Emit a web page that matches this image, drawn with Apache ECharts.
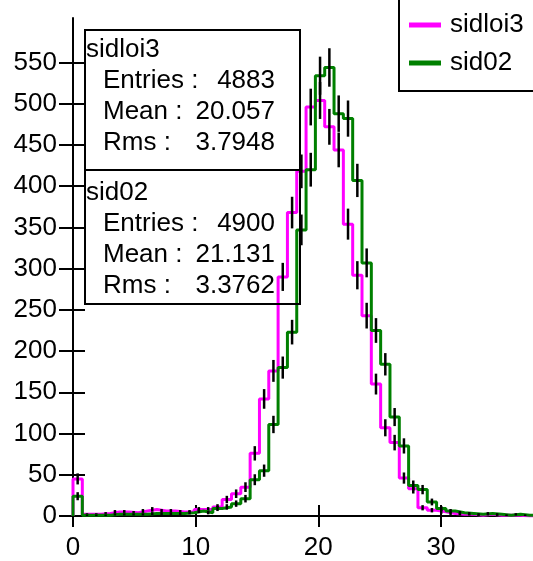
<!DOCTYPE html>
<html><head><meta charset="utf-8">
<script src="https://cdn.jsdelivr.net/npm/echarts@6/dist/echarts.min.js"></script>
<style>html,body{margin:0;padding:0;background:#fff}#c{width:533px;height:561px}</style>
</head><body><div id="c"></div>
<script>
// histogram binning
const BIN_LO = 0, BIN_HI = 38, NBINS = 50;
// bin contents
const sidloi3 = [45,2,2,3,5,5,4,6,8,6,6,5,5,8,8,11,20,27,35,76,142,176,290,368,418,496,504,472,444,354,292,243,160,107,89,46,33,10,7,5,3,2,2,1,2,1,1,1,0,0];
const sid02   = [24,1,1,1,2,2,2,2,3,3,3,3,4,6,4,9,11,15,21,44,55,111,180,223,347,420,534,544,488,482,407,307,225,184,120,85,37,32,17,9,6,4,3,2,3,2,1,2,1,1];
const xTicks = [0,10,20,30];
const yTicks = [0,50,100,150,200,250,300,350,400,450,500,550];
const X_MAX = 37.5, Y_MAX = 604;
// stats boxes
const statNames = ['sidloi3','sid02'];
const statEntries = ['4883','4900'];
const statMeans = ['20.057','21.131'];
const statRms = ['3.7948','3.3762'];

const FONT = 'Liberation Sans';
const FS = 26;
const W = (BIN_HI - BIN_LO) / NBINS;
function stepData(c){
  const d=[[BIN_LO,0]];
  c.forEach((v,i)=>d.push([BIN_LO+i*W,v]));
  d.push([BIN_LO+NBINS*W,c[c.length-1]]);
  return d;
}
function errData(c){ return c.map((v,i)=>[BIN_LO+(i+0.5)*W,v]).filter(p=>p[1]>0); }
function errSeries(c){
  return {type:'custom', clip:true, silent:true, data:errData(c), encode:{x:0,y:1},
    renderItem:(p,api)=>{
      const x=api.value(0), y=api.value(1), e=Math.sqrt(y);
      const a=api.coord([x,y+e]), b=api.coord([x,Math.max(0,y-e)]);
      return {type:'line', shape:{x1:a[0],y1:a[1],x2:b[0],y2:b[1]}, style:{stroke:'#000',lineWidth:2.5}};
    }};
}
const axisBase = {type:'value', min:0};
const chart = echarts.init(document.getElementById('c'));
const fontStr = FS+'px "'+FONT+'"';
const graphics = [
  {type:'rect', shape:{x:85,y:30,width:215,height:274}, style:{fill:'none',stroke:'#000',lineWidth:2}, z:10},
  {type:'line', shape:{x1:85,y1:170,x2:300,y2:170}, style:{stroke:'#000',lineWidth:2}, z:10}
];
statNames.forEach((n,k)=>{
  const y0 = k===0 ? 50 : 193;
  const rows=[['Entries :',statEntries[k]],['Mean :',statMeans[k]],['Rms :',statRms[k]]];
  graphics.push({type:'text', x:86, y:y0, z:11, style:{text:n, font:fontStr, fill:'#000', textVerticalAlign:'middle'}});
  rows.forEach((r,j)=>{
    const y = y0 + 31*(j+1);
    graphics.push({type:'text', x:103, y:y, z:11, style:{text:r[0], font:fontStr, fill:'#000', textVerticalAlign:'middle'}});
    graphics.push({type:'text', x:275, y:y, z:11, style:{text:r[1], font:fontStr, fill:'#000', textAlign:'right', textVerticalAlign:'middle'}});
  });
});
chart.setOption({
  animation:false,
  backgroundColor:'#fff',
  grid:{left:73, right:0, top:18, bottom:45},
  legend:{
    data:['sidloi3','sid02'], orient:'vertical', left:399, top:-1,
    padding:[12,30,14,10], itemGap:10, itemWidth:32, itemHeight:5, icon:'rect',
    borderColor:'#000', borderWidth:2, backgroundColor:'#fff',
    textStyle:{fontFamily:FONT, fontSize:FS, color:'#000', lineHeight:28, padding:[0,0,0,4]}
  },
  xAxis:[
    Object.assign({}, axisBase, {max:X_MAX, position:'bottom',
      axisLine:{lineStyle:{color:'#000',width:2}},
      axisTick:{show:true, length:11, lineStyle:{color:'#000',width:2}, customValues:xTicks},
      axisLabel:{customValues:xTicks, color:'#000', fontFamily:FONT, fontSize:FS, margin:19},
      splitLine:{show:false}}),
    Object.assign({}, axisBase, {max:X_MAX, position:'bottom',
      axisLine:{show:false},
      axisTick:{show:true, inside:true, length:11, lineStyle:{color:'#000',width:2}, customValues:xTicks},
      axisLabel:{show:false}, splitLine:{show:false}})
  ],
  yAxis:[
    Object.assign({}, axisBase, {max:Y_MAX, position:'left',
      axisLine:{show:true, lineStyle:{color:'#000',width:2}},
      axisTick:{show:true, length:14, lineStyle:{color:'#000',width:2}, customValues:yTicks},
      axisLabel:{customValues:yTicks, color:'#000', fontFamily:FONT, fontSize:FS, margin:16},
      splitLine:{show:false}}),
    Object.assign({}, axisBase, {max:Y_MAX, position:'left',
      axisLine:{show:false},
      axisTick:{show:true, inside:true, length:12, lineStyle:{color:'#000',width:2}, customValues:yTicks},
      axisLabel:{show:false}, splitLine:{show:false}})
  ],
  series:[
    {name:'sidloi3', type:'line', step:'end', data:stepData(sidloi3), showSymbol:false, symbol:'none',
     lineStyle:{color:'#ff00ff', width:3}, itemStyle:{color:'#ff00ff'}, z:2},
    Object.assign(errSeries(sidloi3), {z:3}),
    {name:'sid02', type:'line', step:'end', data:stepData(sid02), showSymbol:false, symbol:'none',
     lineStyle:{color:'#008000', width:3}, itemStyle:{color:'#008000'}, z:4},
    Object.assign(errSeries(sid02), {z:5})
  ],
  graphic:graphics
});
</script></body></html>
